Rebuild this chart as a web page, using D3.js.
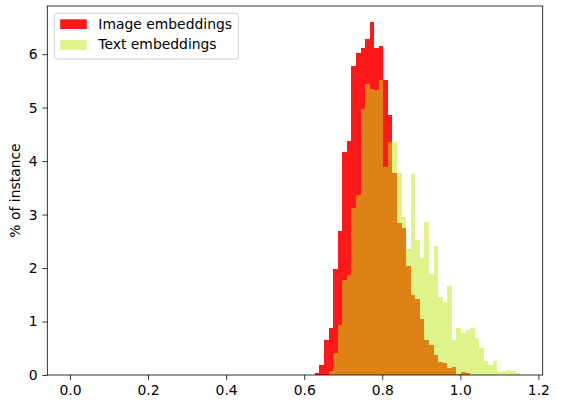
<!DOCTYPE html>
<html>
<head>
<meta charset="utf-8">
<script src="https://cdn.jsdelivr.net/npm/d3@7"></script>
<style>
  body { margin: 0; background: #fff; }
</style>
</head>
<body>
<div id="chart"></div>
<script>
/* DATA */
// bin edges shared by both histograms (46 edges -> 45 bins)
const binEdges = [
  0.6275, 0.6392, 0.6509, 0.6626, 0.6743, 0.6860, 0.6976, 0.7093, 0.7210, 0.7327,
  0.7444, 0.7561, 0.7678, 0.7795, 0.7912, 0.8029, 0.8145, 0.8262, 0.8379, 0.8496,
  0.8613, 0.8730, 0.8847, 0.8964, 0.9081, 0.9198, 0.9314, 0.9431, 0.9548, 0.9665,
  0.9782, 0.9899, 1.0016, 1.0133, 1.0250, 1.0367, 1.0483, 1.0600, 1.0717, 1.0834,
  1.0951, 1.1068, 1.1185, 1.1302, 1.1419, 1.1536
];

// % of instance per bin
const imageValues = [
  0.03, 0.18, 0.66, 0.87, 1.99, 2.69, 4.17, 4.37, 5.78, 6.03,
  6.12, 6.28, 6.61, 6.12, 6.15, 5.51, 4.86, 3.77, 2.84, 2.74,
  2.03, 1.49, 1.43, 1.04, 0.65, 0.57, 0.37, 0.25, 0.22, 0.14,
  0.15, 0.01, 0.05, 0.03, 0, 0, 0, 0, 0, 0,
  0, 0, 0, 0, 0
];

const textValues = [
  0, 0, 0, 0.07, 0.41, 0.93, 1.78, 1.87, 3.12, 3.37,
  4.98, 5.44, 5.35, 5.33, 5.51, 3.89, 4.35, 4.35, 3.78, 2.96,
  2.35, 3.75, 2.52, 2.18, 2.86, 1.88, 2.41, 1.46, 1.36, 1.66,
  0.66, 0.88, 0.78, 0.85, 0.87, 0.70, 0.51, 0.27, 0.18, 0.26,
  0.05, 0.07, 0.10, 0.07, 0.03
];

const seriesNames = ['Image embeddings', 'Text embeddings'];
const xTicks = [0.0, 0.2, 0.4, 0.6, 0.8, 1.0, 1.2];
const yTicks = [0, 1, 2, 3, 4, 5, 6];

/* LAYOUT */
const width = 561, height = 407;
const margin = { left: 47.3, right: 542.7, top: 6, bottom: 375 };
const font = '"DejaVu Sans", sans-serif';
const fontSize = '13.9px';
const colors = ['#ff0000', '#bfeb19'];
const alphas = [0.9, 0.5];

const svg = d3.select('#chart').append('svg')
  .attr('width', width)
  .attr('height', height);

const x = d3.scaleLinear().domain([-0.058, 1.211]).range([margin.left, margin.right]);
const y = d3.scaleLinear().domain([0, 6.9]).range([margin.bottom, margin.top]);

// bars, one group per series so the overlap blends like matplotlib's alpha
[imageValues, textValues].forEach((vals, s) => {
  svg.append('g')
    .attr('fill', colors[s])
    .attr('opacity', alphas[s])
    .attr('shape-rendering', 'crispEdges')
    .selectAll('rect')
    .data(vals.map((v, i) => ({ v, x0: binEdges[i], x1: binEdges[i + 1] })).filter(d => d.v > 0))
    .join('rect')
    .attr('x', d => x(d.x0))
    .attr('width', d => x(d.x1) - x(d.x0))
    .attr('y', d => y(d.v))
    .attr('height', d => y(0) - y(d.v));
});

// axes
const xAxis = svg.append('g')
  .attr('transform', `translate(0,${margin.bottom})`)
  .call(d3.axisBottom(x).tickValues(xTicks).tickFormat(d3.format('.1f')).tickSize(4.9).tickPadding(4.9));

const yAxis = svg.append('g')
  .attr('transform', `translate(${margin.left},0)`)
  .call(d3.axisLeft(y).tickValues(yTicks).tickFormat(d => d).tickSize(4.9).tickPadding(4.9));

[xAxis, yAxis].forEach(g => {
  g.select('.domain').remove();
  g.selectAll('line').attr('stroke', '#000').attr('stroke-width', 0.8);
  g.selectAll('text')
    .attr('fill', '#000')
    .style('font-family', font)
    .style('font-size', fontSize);
});

// frame
svg.append('rect')
  .attr('x', margin.left).attr('y', margin.top)
  .attr('width', margin.right - margin.left).attr('height', margin.bottom - margin.top)
  .attr('fill', 'none')
  .attr('stroke', '#000')
  .attr('stroke-width', 0.8);

// y label
svg.append('text')
  .attr('transform', `translate(20,${(margin.top + margin.bottom) / 2}) rotate(-90)`)
  .attr('text-anchor', 'middle')
  .style('font-family', font)
  .style('font-size', fontSize)
  .text('% of instance');

// legend
const legend = svg.append('g');
legend.append('rect')
  .attr('x', 54.3).attr('y', 13.3)
  .attr('width', 184).attr('height', 45.7)
  .attr('rx', 2.8)
  .attr('fill', '#fff').attr('fill-opacity', 0.8)
  .attr('stroke', '#cccccc').attr('stroke-width', 1);

seriesNames.forEach((name, i) => {
  const row = legend.append('g').attr('transform', `translate(0,${i * 20.7})`);
  row.append('rect')
    .attr('x', 60.2).attr('y', 19.3)
    .attr('width', 26.6).attr('height', 9.7)
    .attr('fill', colors[i])
    .attr('fill-opacity', alphas[i]);
  row.append('text')
    .attr('x', 98.3).attr('y', 28.6)
    .style('font-family', font)
    .style('font-size', fontSize)
    .text(name);
});
</script>
</body>
</html>
